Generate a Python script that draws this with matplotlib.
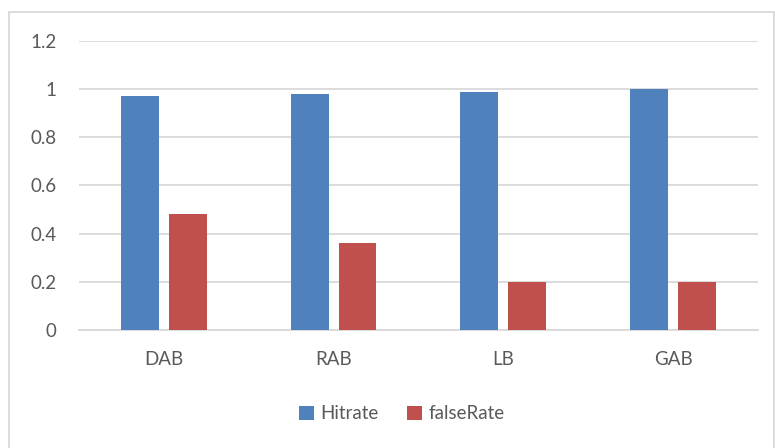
import matplotlib.pyplot as plt
from matplotlib.patches import Rectangle
import numpy as np

plt.rcParams['font.family'] = ['Lato', 'DejaVu Sans']

categories = ['DAB', 'RAB', 'LB', 'GAB']
hitrate = [0.97, 0.98, 0.99, 1.0]
false_rate = [0.48, 0.36, 0.20, 0.20]

blue = '#4F81BD'
red = '#C0504D'
text_col = '#595959'
grid_col = '#D9D9D9'

fig = plt.figure(figsize=(7.75, 4.48), dpi=100)
ax = fig.add_axes([0.1019, 0.2634, 0.876, 0.6451])

x = np.arange(len(categories))
w = 0.2235
off = 0.141
ax.bar(x - off, hitrate, w, color=blue, label='Hitrate', zorder=3)
ax.bar(x + off, false_rate, w, color=red, label='falseRate', zorder=3)

ax.set_xlim(-0.5, len(categories) - 0.5)
ax.set_ylim(0, 1.2)
ax.set_yticks(np.arange(0, 1.21, 0.2))
ax.set_yticklabels(['0', '0.2', '0.4', '0.6', '0.8', '1', '1.2'])
ax.set_xticks(x)
ax.set_xticklabels(categories)
ax.grid(axis='y', color=grid_col, linewidth=1.3, zorder=0)
ax.tick_params(axis='both', length=0, labelsize=13.5, colors=text_col)
ax.tick_params(axis='x', pad=15)
ax.tick_params(axis='y', pad=16)
for s in ['top', 'right', 'left']:
    ax.spines[s].set_visible(False)
ax.spines['bottom'].set_color(grid_col)
ax.spines['bottom'].set_linewidth(1.3)

leg = fig.legend(loc='center', bbox_to_anchor=(0.518, 0.076), ncol=2, frameon=False,
                 fontsize=13.5, handlelength=0.8, handleheight=0.8, handletextpad=0.35,
                 columnspacing=1.5)
for t in leg.get_texts():
    t.set_color(text_col)

fig.patches.append(Rectangle((9 / 775, -0.01), 0.999 - 9 / 775, 1 - 12 / 448 + 0.01,
                             transform=fig.transFigure, fill=False,
                             edgecolor=grid_col, linewidth=1.3))

fig.savefig('out.png', dpi=100)
